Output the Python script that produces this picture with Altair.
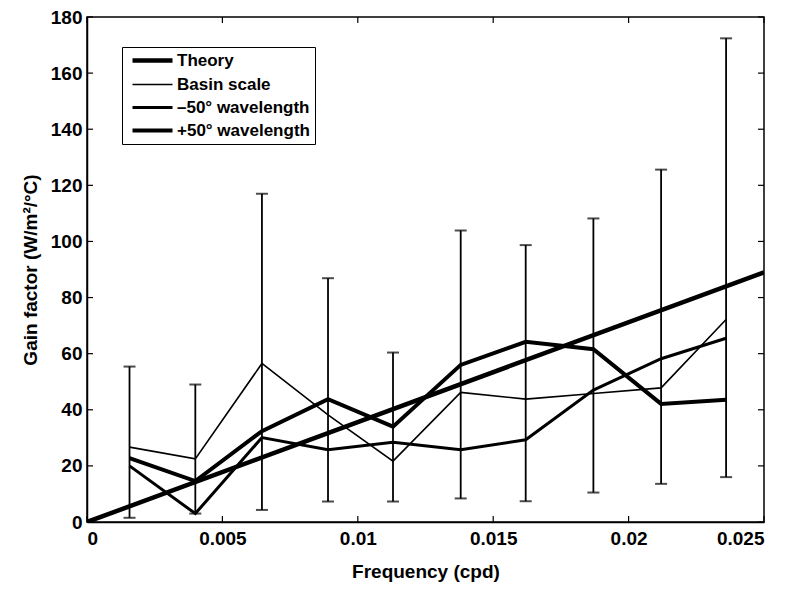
import altair as alt
import pandas as pd

# ---- data ----
freq = [0.00157, 0.0040, 0.00646, 0.0089, 0.0113, 0.0138, 0.0162, 0.0187, 0.0212, 0.0236]
basin = [26.7, 22.5, 56.5, 38.2, 21.7, 46.2, 43.8, 45.8, 47.8, 72.2]
minus50 = [20.0, 3.0, 30.1, 25.8, 28.4, 25.8, 29.3, 47.0, 58.2, 65.5]
plus50 = [22.8, 14.6, 32.4, 43.8, 34.0, 56.0, 64.2, 61.6, 42.1, 43.6]
err_lo = [1.5, 3.0, 4.3, 7.3, 7.3, 8.4, 7.4, 10.5, 13.6, 16.0]
err_hi = [55.4, 49.0, 117.0, 86.9, 60.4, 103.9, 98.7, 108.2, 125.6, 172.4]
theory_x = [0.0, 0.025]
theory_y = [0.0, 89.0]

series_names = ["Theory", "Basin scale", "–50° wavelength", "+50° wavelength"]
series_widths = [4.5, 1.6, 3.0, 4.0]

xticks = [0, 0.005, 0.01, 0.015, 0.02, 0.025]
yticks = [0, 20, 40, 60, 80, 100, 120, 140, 160, 180]

W, H = 677, 505
FONT = "Liberation Sans"

rows = []
for i, (x, y) in enumerate(zip(theory_x, theory_y)):
    rows.append({"f": x, "g": y, "s": series_names[0], "o": i})
for name, vals in zip(series_names[1:], [basin, minus50, plus50]):
    for i, (x, y) in enumerate(zip(freq, vals)):
        rows.append({"f": x, "g": y, "s": name, "o": i})
lines = pd.DataFrame(rows)
errs = pd.DataFrame({"f": freq, "lo": err_lo, "hi": err_hi})

x_scale = alt.Scale(domain=[0, 0.025], nice=False, zero=False)
y_scale = alt.Scale(domain=[0, 180], nice=False)

axis_common = dict(
    grid=False, domainColor="black", domainWidth=1.5, tickSize=0,
    labelFont=FONT, labelFontWeight="bold", labelFontSize=19, labelColor="black",
    titleFont=FONT, titleFontWeight="bold", titleFontSize=19, titleColor="black",
)

line_layer = alt.Chart(lines).mark_line(color="black", clip=True).encode(
    x=alt.X("f:Q", scale=x_scale,
            axis=alt.Axis(title="Frequency (cpd)", values=xticks, format="~g",
                          labelPadding=7, titlePadding=14, **axis_common)),
    y=alt.Y("g:Q", scale=y_scale,
            axis=alt.Axis(title="Gain factor (W/m²/°C)", values=yticks,
                          labelPadding=5, titlePadding=10, **axis_common)),
    strokeWidth=alt.StrokeWidth(
        "s:N",
        scale=alt.Scale(type="ordinal", domain=series_names, range=series_widths),
        legend=alt.Legend(
            title=None, orient="none", legendX=35, legendY=30,
            symbolType="M-0.6,0L7.4,0", symbolSize=100, symbolStrokeColor="black",
            symbolFillColor="black",
            labelFont=FONT, labelFontWeight="bold", labelFontSize=17, labelColor="black",
            strokeColor="black", fillColor="white", padding=5, rowPadding=5,
            labelOffset=33,
        ),
    ),
    detail="s:N",
    order="o:Q",
)

err_rule = alt.Chart(errs).mark_rule(color="black", strokeWidth=1.8).encode(
    x=alt.X("f:Q", scale=x_scale),
    y=alt.Y("lo:Q", scale=y_scale),
    y2="hi:Q",
)
cap_lo = alt.Chart(errs).mark_tick(color="black", thickness=2, size=12, orient="horizontal").encode(
    x=alt.X("f:Q", scale=x_scale), y=alt.Y("lo:Q", scale=y_scale)
)
cap_hi = alt.Chart(errs).mark_tick(color="black", thickness=2, size=12, orient="horizontal").encode(
    x=alt.X("f:Q", scale=x_scale), y=alt.Y("hi:Q", scale=y_scale)
)

ytick_df = pd.DataFrame({"v": yticks})
xtick_df = pd.DataFrame({"v": xticks})
tick_l = alt.Chart(ytick_df).mark_rule(color="black", strokeWidth=1.2).encode(
    y=alt.Y("v:Q", scale=y_scale), x=alt.value(0), x2=alt.value(6))
tick_r = alt.Chart(ytick_df).mark_rule(color="black", strokeWidth=1.2).encode(
    y=alt.Y("v:Q", scale=y_scale), x=alt.value(W), x2=alt.value(W - 6))
tick_b = alt.Chart(xtick_df).mark_rule(color="black", strokeWidth=1.2).encode(
    x=alt.X("v:Q", scale=x_scale), y=alt.value(H), y2=alt.value(H - 6))
tick_t = alt.Chart(xtick_df).mark_rule(color="black", strokeWidth=1.2).encode(
    x=alt.X("v:Q", scale=x_scale), y=alt.value(0), y2=alt.value(6))

chart = alt.layer(
    err_rule, cap_lo, cap_hi, line_layer, tick_l, tick_r, tick_b, tick_t
).properties(
    width=W, height=H,
    autosize=alt.AutoSizeParams(type="none"),
    padding={"left": 79, "top": 9, "right": 16, "bottom": 79},
    background="white",
).configure_view(
    stroke="black", strokeWidth=1.5
)

chart.save("out.html", embed_options={"renderer": "svg", "actions": False})
